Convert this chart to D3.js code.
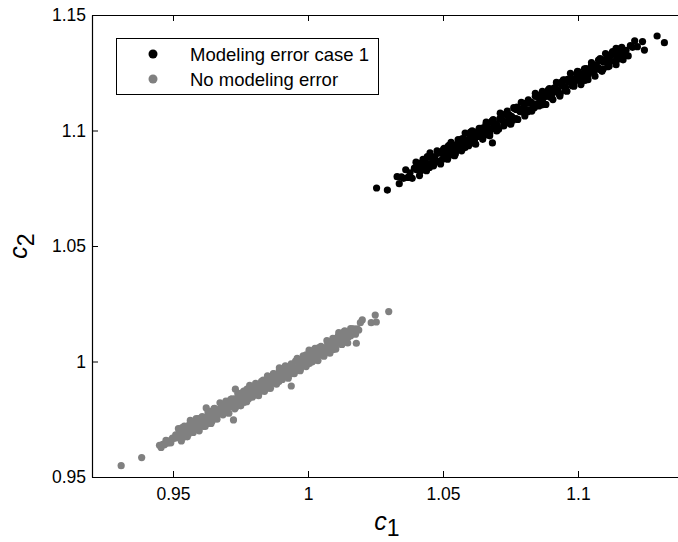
<!DOCTYPE html>
<html>
<head>
<meta charset="utf-8">
<script src="https://cdn.jsdelivr.net/npm/d3@7"></script>
<style>
	body { margin: 0; background: #fff; }
	svg { display: block; font-family: "Liberation Sans", Arial, sans-serif; }
	.axis path, .axis line { stroke: #000; }
	.axis text { font-size: 17.5px; fill: #000; }
</style>
</head>
<body>
<script>
// c1 / c2 pairs
var modelErrPoints = [
	[1.0254,1.0751],[1.0294,1.0742],[1.0330,1.0800],[1.0338,1.0770],[1.0346,1.0799],[1.0354,1.0793],
	[1.0362,1.0830],[1.0370,1.0797],[1.0378,1.0817],[1.0386,1.0793],[1.0394,1.0837],[1.0402,1.0830],
	[1.0410,1.0858],[1.0418,1.0826],[1.0426,1.0854],[1.0434,1.0849],[1.0442,1.0887],[1.0450,1.0840],
	[1.0458,1.0882],[1.0466,1.0874],[1.0474,1.0868],[1.0482,1.0902],[1.0490,1.0906],[1.0498,1.0876],
	[1.0506,1.0904],[1.0514,1.0899],[1.0522,1.0936],[1.0530,1.0903],[1.0538,1.0923],[1.0546,1.0899],
	[1.0554,1.0943],[1.0562,1.0935],[1.0570,1.0964],[1.0578,1.0932],[1.0586,1.0960],[1.0594,1.0955],
	[1.0602,1.0993],[1.0610,1.0946],[1.0618,1.0988],[1.0626,1.0980],[1.0634,1.0974],[1.0642,1.1009],
	[1.0650,1.1012],[1.0658,1.0982],[1.0666,1.1010],[1.0674,1.1005],[1.0682,1.1042],[1.0690,1.1009],
	[1.0698,1.1029],[1.0706,1.1005],[1.0714,1.1049],[1.0722,1.1042],[1.0730,1.1070],[1.0738,1.1038],
	[1.0746,1.1067],[1.0754,1.1061],[1.0762,1.1099],[1.0770,1.1052],[1.0778,1.1094],[1.0786,1.1086],
	[1.0794,1.1080],[1.0802,1.1115],[1.0810,1.1118],[1.0818,1.1088],[1.0826,1.1117],[1.0834,1.1111],
	[1.0842,1.1148],[1.0850,1.1115],[1.0858,1.1135],[1.0866,1.1111],[1.0874,1.1155],[1.0882,1.1148],
	[1.0890,1.1176],[1.0898,1.1144],[1.0906,1.1173],[1.0914,1.1167],[1.0922,1.1205],[1.0930,1.1158],
	[1.0938,1.1200],[1.0946,1.1192],[1.0954,1.1186],[1.0962,1.1221],[1.0970,1.1224],[1.0978,1.1194],
	[1.0986,1.1223],[1.0994,1.1217],[1.1002,1.1254],[1.1010,1.1221],[1.1018,1.1241],[1.1026,1.1217],
	[1.1034,1.1261],[1.1042,1.1254],[1.1050,1.1282],[1.1058,1.1250],[1.1066,1.1279],[1.1074,1.1273],
	[1.1082,1.1311],[1.1090,1.1265],[1.1098,1.1306],[1.1106,1.1298],[1.1114,1.1292],[1.1122,1.1327],
	[1.1130,1.1330],[1.1138,1.1300],[1.1146,1.1329],[1.1154,1.1323],[1.1162,1.1360],[1.1170,1.1328],
	[1.1178,1.1347],[1.1186,1.1323],[1.1194,1.1367],[1.1202,1.1360],[1.1210,1.1388],
	[1.0454,1.0857],[1.0470,1.0887],[1.0486,1.0865],[1.0502,1.0918],[1.0518,1.0907],[1.0534,1.0933],
	[1.0550,1.0915],[1.0566,1.0946],[1.0582,1.0926],[1.0598,1.0985],[1.0614,1.0975],[1.0630,1.0974],
	[1.0646,1.1003],[1.0662,1.0982],[1.0678,1.1035],[1.0694,1.1024],[1.0710,1.1050],[1.0726,1.1032],
	[1.0742,1.1063],[1.0758,1.1043],[1.0774,1.1101],[1.0790,1.1092],[1.0806,1.1091],[1.0822,1.1120],
	[1.0838,1.1099],[1.0854,1.1151],[1.0870,1.1141],[1.0886,1.1167],[1.0902,1.1148],[1.0918,1.1180],
	[1.0934,1.1160],[1.0950,1.1218],[1.0966,1.1209],[1.0982,1.1207],[1.0998,1.1237],[1.1014,1.1216],
	[1.1030,1.1268],[1.1046,1.1258],[1.1062,1.1283],[1.1078,1.1265],[1.1094,1.1297],[1.1110,1.1276],
	[1.1126,1.1335],[1.1142,1.1325],
	[1.0400,1.0863],[1.0413,1.0805],[1.0426,1.0875],[1.0439,1.0826],[1.0452,1.0903],[1.0465,1.0847],
	[1.0478,1.0912],[1.0491,1.0855],[1.0504,1.0923],[1.0517,1.0876],[1.0530,1.0949],[1.0543,1.0891],
	[1.0556,1.0961],[1.0569,1.0912],[1.0582,1.0989],[1.0595,1.0934],[1.0608,1.0998],[1.0621,1.0941],
	[1.0634,1.1009],[1.0647,1.0962],[1.0660,1.1036],[1.0673,1.0977],[1.0686,1.1047],[1.0699,1.0998],
	[1.0712,1.1075],[1.0725,1.1020],[1.0738,1.1084],[1.0751,1.1027],[1.0764,1.1095],[1.0777,1.1048],
	[1.0790,1.1122],[1.0803,1.1063],[1.0816,1.1133],[1.0829,1.1084],[1.0842,1.1161],[1.0855,1.1106],
	[1.0868,1.1170],[1.0881,1.1113],[1.0894,1.1181],[1.0907,1.1134],[1.0920,1.1208],[1.0933,1.1149],
	[1.0946,1.1219],[1.0959,1.1170],[1.0972,1.1247],[1.0985,1.1192],[1.0998,1.1256],[1.1011,1.1199],
	[1.1024,1.1267],[1.1037,1.1220],[1.1050,1.1294],[1.1063,1.1235],[1.1076,1.1305],[1.1089,1.1256],
	[1.1102,1.1333],[1.1115,1.1278],[1.1128,1.1342],[1.1141,1.1285],[1.1154,1.1353],[1.1167,1.1306],
	[1.0407,1.0843],[1.0421,1.0835],[1.0435,1.0872],[1.0449,1.0843],[1.0463,1.0874],[1.0477,1.0868],
	[1.0491,1.0905],[1.0505,1.0896],[1.0519,1.0931],[1.0533,1.0894],[1.0547,1.0936],[1.0561,1.0928],
	[1.0575,1.0965],[1.0589,1.0936],[1.0603,1.0967],[1.0617,1.0961],[1.0631,1.0998],[1.0645,1.0989],
	[1.0659,1.1024],[1.0673,1.0987],[1.0687,1.1029],[1.0701,1.1021],[1.0715,1.1058],[1.0729,1.1029],
	[1.0743,1.1060],[1.0757,1.1054],[1.0771,1.1091],[1.0785,1.1082],[1.0799,1.1117],[1.0813,1.1080],
	[1.0827,1.1122],[1.0841,1.1114],[1.0855,1.1151],[1.0869,1.1122],[1.0883,1.1153],[1.0897,1.1147],
	[1.0911,1.1184],[1.0925,1.1175],[1.0939,1.1210],[1.0953,1.1173],[1.0967,1.1215],[1.0981,1.1207],
	[1.0995,1.1244],[1.1009,1.1215],[1.1023,1.1246],[1.1037,1.1240],[1.1051,1.1277],[1.1065,1.1268],
	[1.1079,1.1303],[1.1093,1.1266],[1.1107,1.1308],[1.1121,1.1300],[1.1135,1.1337],[1.1149,1.1308],
	[1.1163,1.1339],
	[1.0683,1.0946],[1.1141,1.1356],[1.1220,1.1363],[1.1239,1.1385],[1.1246,1.1348],[1.1293,1.1409],
	[1.1320,1.1380]
];

var noErrPoints = [
	[0.9308,0.9549],[0.9384,0.9584],[0.9450,0.9637],[0.9456,0.9628],[0.9462,0.9641],[0.9468,0.9640],
	[0.9474,0.9659],[0.9480,0.9646],[0.9486,0.9656],[0.9492,0.9648],[0.9498,0.9668],[0.9504,0.9667],
	[0.9510,0.9682],[0.9516,0.9670],[0.9522,0.9687],[0.9528,0.9682],[0.9534,0.9714],[0.9540,0.9673],
	[0.9546,0.9708],[0.9552,0.9703],[0.9558,0.9697],[0.9564,0.9725],[0.9570,0.9726],[0.9576,0.9703],
	[0.9582,0.9725],[0.9588,0.9720],[0.9594,0.9753],[0.9600,0.9724],[0.9606,0.9739],[0.9612,0.9719],
	[0.9618,0.9756],[0.9624,0.9750],[0.9630,0.9774],[0.9636,0.9746],[0.9642,0.9770],[0.9648,0.9765],
	[0.9654,0.9797],[0.9660,0.9756],[0.9666,0.9791],[0.9672,0.9786],[0.9678,0.9780],[0.9684,0.9808],
	[0.9690,0.9809],[0.9696,0.9786],[0.9702,0.9808],[0.9708,0.9804],[0.9714,0.9836],[0.9720,0.9807],
	[0.9726,0.9822],[0.9732,0.9802],[0.9738,0.9839],[0.9744,0.9833],[0.9750,0.9857],[0.9756,0.9829],
	[0.9762,0.9853],[0.9768,0.9848],[0.9774,0.9880],[0.9780,0.9839],[0.9786,0.9874],[0.9792,0.9869],
	[0.9798,0.9863],[0.9804,0.9891],[0.9810,0.9892],[0.9816,0.9869],[0.9822,0.9891],[0.9828,0.9887],
	[0.9834,0.9919],[0.9840,0.9890],[0.9846,0.9905],[0.9852,0.9885],[0.9858,0.9922],[0.9864,0.9916],
	[0.9870,0.9940],[0.9876,0.9912],[0.9882,0.9936],[0.9888,0.9931],[0.9894,0.9963],[0.9900,0.9922],
	[0.9906,0.9957],[0.9912,0.9952],[0.9918,0.9946],[0.9924,0.9974],[0.9930,0.9975],[0.9936,0.9952],
	[0.9942,0.9974],[0.9948,0.9970],[0.9954,1.0002],[0.9960,0.9973],[0.9966,0.9988],[0.9972,0.9968],
	[0.9978,1.0005],[0.9984,0.9999],[0.9990,1.0023],[0.9996,0.9995],[1.0002,1.0019],[1.0008,1.0014],
	[1.0014,1.0046],[1.0020,1.0005],[1.0026,1.0040],[1.0032,1.0035],[1.0038,1.0029],[1.0044,1.0057],
	[1.0050,1.0058],[1.0056,1.0035],[1.0062,1.0057],[1.0068,1.0053],[1.0074,1.0085],[1.0080,1.0056],
	[1.0086,1.0071],[1.0092,1.0051],[1.0098,1.0088],[1.0104,1.0083],[1.0110,1.0106],[1.0116,1.0078],
	[1.0122,1.0102],[1.0128,1.0097],[1.0134,1.0129],[1.0140,1.0088],[1.0146,1.0124],[1.0152,1.0118],
	[1.0158,1.0112],[1.0164,1.0140],[1.0170,1.0141],[1.0176,1.0118],[1.0182,1.0141],[1.0188,1.0136],
	[1.0194,1.0168],
	[0.9533,0.9679],[0.9545,0.9707],[0.9557,0.9685],[0.9569,0.9732],[0.9581,0.9720],[0.9593,0.9744],
	[0.9605,0.9723],[0.9617,0.9752],[0.9629,0.9732],[0.9641,0.9784],[0.9653,0.9774],[0.9665,0.9771],
	[0.9677,0.9798],[0.9689,0.9776],[0.9701,0.9823],[0.9713,0.9812],[0.9725,0.9835],[0.9737,0.9814],
	[0.9749,0.9844],[0.9761,0.9823],[0.9773,0.9875],[0.9785,0.9866],[0.9797,0.9862],[0.9809,0.9889],
	[0.9821,0.9868],[0.9833,0.9915],[0.9845,0.9903],[0.9857,0.9927],[0.9869,0.9906],[0.9881,0.9935],
	[0.9893,0.9914],[0.9905,0.9967],[0.9917,0.9957],[0.9929,0.9953],[0.9941,0.9981],[0.9953,0.9959],
	[0.9965,1.0006],[0.9977,0.9995],[0.9989,1.0018],[1.0001,0.9997],[1.0013,1.0027],[1.0025,1.0006],
	[1.0037,1.0058],[1.0049,1.0049],[1.0061,1.0045],[1.0073,1.0072],[1.0085,1.0051],[1.0097,1.0098],
	[1.0109,1.0086],[1.0121,1.0110],
	[0.9520,0.9709],[0.9531,0.9656],[0.9542,0.9720],[0.9553,0.9674],[0.9564,0.9745],[0.9575,0.9693],
	[0.9586,0.9753],[0.9597,0.9700],[0.9608,0.9762],[0.9619,0.9719],[0.9630,0.9785],[0.9641,0.9732],
	[0.9652,0.9796],[0.9663,0.9750],[0.9674,0.9821],[0.9685,0.9769],[0.9696,0.9829],[0.9707,0.9776],
	[0.9718,0.9838],[0.9729,0.9795],[0.9740,0.9862],[0.9751,0.9808],[0.9762,0.9872],[0.9773,0.9826],
	[0.9784,0.9897],[0.9795,0.9846],[0.9806,0.9905],[0.9817,0.9852],[0.9828,0.9914],[0.9839,0.9871],
	[0.9850,0.9938],[0.9861,0.9884],[0.9872,0.9948],[0.9883,0.9902],[0.9894,0.9973],[0.9905,0.9922],
	[0.9916,0.9981],[0.9927,0.9928],[0.9938,0.9990],[0.9949,0.9947],[0.9960,1.0014],[0.9971,0.9960],
	[0.9982,1.0024],[0.9993,0.9978],[1.0004,1.0049],[1.0015,0.9998],[1.0026,1.0057],[1.0037,1.0004],
	[1.0048,1.0066],[1.0059,1.0023],[1.0070,1.0090],[1.0081,1.0036],[1.0092,1.0100],[1.0103,1.0054],
	[1.0114,1.0125],[1.0125,1.0074],[1.0136,1.0133],[1.0147,1.0080],[1.0158,1.0142],
	[0.9537,0.9699],[0.9549,0.9690],[0.9561,0.9727],[0.9573,0.9696],[0.9585,0.9726],[0.9597,0.9720],
	[0.9609,0.9755],[0.9621,0.9745],[0.9633,0.9780],[0.9645,0.9742],[0.9657,0.9782],[0.9669,0.9773],
	[0.9681,0.9810],[0.9693,0.9779],[0.9705,0.9809],[0.9717,0.9803],[0.9729,0.9838],[0.9741,0.9828],
	[0.9753,0.9863],[0.9765,0.9825],[0.9777,0.9865],[0.9789,0.9856],[0.9801,0.9893],[0.9813,0.9862],
	[0.9825,0.9892],[0.9837,0.9886],[0.9849,0.9921],[0.9861,0.9911],[0.9873,0.9946],[0.9885,0.9908],
	[0.9897,0.9948],[0.9909,0.9939],[0.9921,0.9976],[0.9933,0.9945],[0.9945,0.9975],[0.9957,0.9969],
	[0.9969,1.0004],[0.9981,0.9994],[0.9993,1.0029],[1.0005,0.9991],[1.0017,1.0031],[1.0029,1.0022],
	[1.0041,1.0059],[1.0053,1.0028],[1.0065,1.0058],[1.0077,1.0052],[1.0089,1.0087],[1.0101,1.0077],
	[1.0113,1.0112],[1.0125,1.0074],[1.0137,1.0114],[1.0149,1.0105],
	[0.9623,0.9799],[0.9724,0.9747],[0.9731,0.9880],[0.9938,0.9894],[1.0179,1.0079],[1.0201,1.0180],
	[1.0234,1.0168],[1.0253,1.0171],[1.0249,1.0201],[1.0299,1.0216]
];

var seriesNames = ['Modeling error case 1', 'No modeling error'];
var seriesColors = ['#000000', '#808080'];

var xTicks = [0.95, 1, 1.05, 1.1];
var xTickLabels = ['0.95', '1', '1.05', '1.1'];
var yTicks = [0.95, 1, 1.05, 1.1, 1.15];
var yTickLabels = ['0.95', '1', '1.05', '1.1', '1.15'];

var width = 678, height = 542;
var box = { left: 92, top: 15, right: 686, bottom: 477 };

var svg = d3.select('body')
	.append('svg')
		.attr('width', width)
		.attr('height', height);

var x = d3.scaleLinear()
	.domain([0.92, 1.14])
	.range([box.left, box.right]);

var y = d3.scaleLinear()
	.domain([0.95, 1.15])
	.range([box.bottom, box.top]);

// points
[modelErrPoints, noErrPoints].forEach(function(pts, i) {
	svg.append('g')
		.selectAll('circle')
		.data(pts)
		.enter()
		.append('circle')
			.attr('cx', function(d) { return x(d[0]); })
			.attr('cy', function(d) { return y(d[1]); })
			.attr('r', 3.6)
			.attr('fill', seriesColors[i]);
});

// axes, ticks pointing inward like matlab
var xAxis = d3.axisBottom(x)
	.tickValues(xTicks)
	.tickFormat(function(d, i) { return xTickLabels[i]; })
	.tickSizeInner(-6)
	.tickSizeOuter(0)
	.tickPadding(11);

var yAxis = d3.axisLeft(y)
	.tickValues(yTicks)
	.tickFormat(function(d, i) { return yTickLabels[i]; })
	.tickSizeInner(-6)
	.tickSizeOuter(0)
	.tickPadding(6);

svg.append('g')
	.attr('class', 'x axis')
	.attr('transform', 'translate(0,' + box.bottom + ')')
	.call(xAxis);

svg.append('g')
	.attr('class', 'x axis top')
	.attr('transform', 'translate(0,' + box.top + ')')
	.call(d3.axisTop(x).tickValues(xTicks).tickFormat('').tickSizeInner(-6).tickSizeOuter(0));

svg.append('g')
	.attr('class', 'y axis')
	.attr('transform', 'translate(' + box.left + ',0)')
	.call(yAxis);

svg.append('g')
	.attr('class', 'y axis right')
	.attr('transform', 'translate(' + box.right + ',0)')
	.call(d3.axisRight(y).tickValues(yTicks).tickFormat('').tickSizeInner(-6).tickSizeOuter(0));

svg.selectAll('.axis .domain').attr('stroke-width', 1.2);

// axis labels
var xLab = svg.append('text')
	.attr('transform', 'translate(' + ((box.left + box.right) / 2 - 2) + ',530)')
	.attr('text-anchor', 'middle')
	.style('font-size', '25px');
xLab.append('tspan').style('font-style', 'italic').text('c');
xLab.append('tspan').attr('dy', 6).style('font-size', '23px').text('1');

var yLab = svg.append('text')
	.attr('transform', 'translate(27,' + ((box.top + box.bottom) / 2) + ') rotate(-90)')
	.attr('text-anchor', 'middle')
	.style('font-size', '25px');
yLab.append('tspan').style('font-style', 'italic').text('c');
yLab.append('tspan').attr('dy', 7).style('font-size', '23px').text('2');

// legend
var legend = svg.append('g').attr('class', 'legend');
legend.append('rect')
	.attr('x', 116.5)
	.attr('y', 38.5)
	.attr('width', 262)
	.attr('height', 56)
	.attr('fill', '#fff')
	.attr('stroke', '#000');

var rows = legend.selectAll('.row')
	.data(seriesNames)
	.enter()
	.append('g')
		.attr('class', 'row')
		.attr('transform', function(d, i) { return 'translate(0,' + (54 + i * 25) + ')'; });

rows.append('circle')
	.attr('cx', 153)
	.attr('cy', 0)
	.attr('r', 4.5)
	.attr('fill', function(d, i) { return seriesColors[i]; });

rows.append('text')
	.attr('x', 190)
	.attr('y', 0)
	.attr('dy', '0.36em')
	.style('font-size', '18.5px')
	.text(function(d) { return d; });
</script>
</body>
</html>
